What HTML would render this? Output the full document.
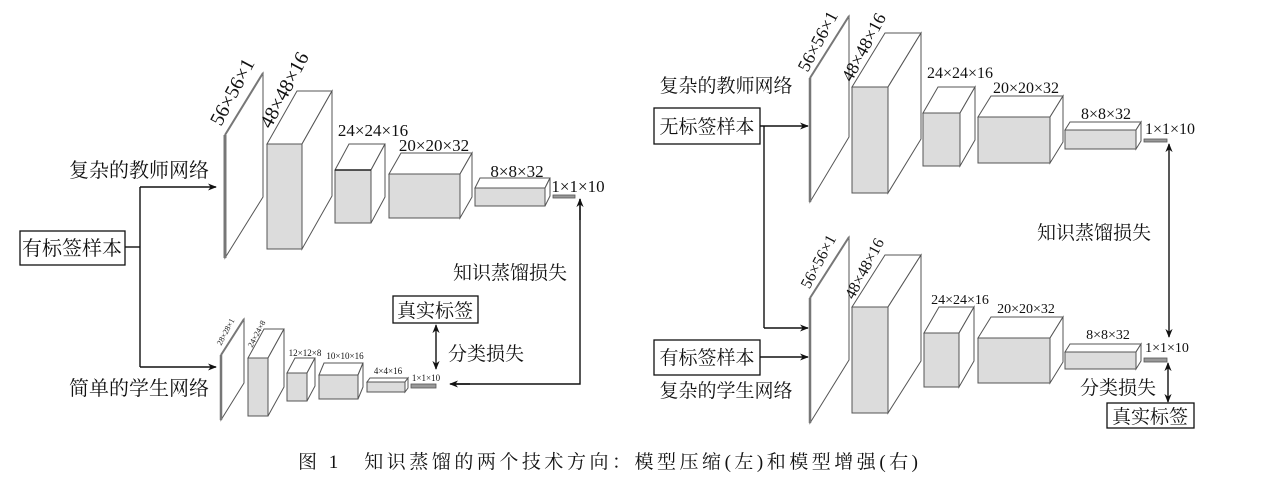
<!DOCTYPE html>
<html><head><meta charset="utf-8"><style>
html,body{margin:0;padding:0;background:#fff}
svg{display:block}
.n{font-family:"Liberation Serif",serif;fill:#111}
.c{font-family:"Liberation Serif","Noto Serif CJK SC",serif;fill:#111}
.f{fill:#dcdcdc;stroke:#555;stroke-width:1}
.w{fill:#fff;stroke:#555;stroke-width:1}
.l{stroke:#111;stroke-width:1.4;fill:none}
</style></head><body>
<svg width="1267" height="477" viewBox="0 0 1267 477" xmlns="http://www.w3.org/2000/svg">
<defs>
<marker id="a" viewBox="0 0 10 10" refX="9" refY="5" markerWidth="9" markerHeight="9" orient="auto-start-reverse" markerUnits="userSpaceOnUse"><path d="M0,1 L10,5 L0,9 L3,5 z" fill="#111"/></marker>
</defs>

<!-- LEFT PANEL -->
<rect x="20" y="231" width="105" height="34" fill="#fff" stroke="#111" stroke-width="1.3"/>
<text x="72" y="255" class="c" font-size="20" text-anchor="middle">有标签样本</text>
<polyline class="l" points="125,247 140,247"/>
<polyline class="l" points="140,187 140,367"/>
<line class="l" x1="140" y1="187" x2="216" y2="187" marker-end="url(#a)"/>
<line class="l" x1="140" y1="367" x2="216" y2="367" marker-end="url(#a)"/>
<text x="139" y="177" class="c" font-size="20" text-anchor="middle">复杂的教师网络</text>
<text x="139" y="395" class="c" font-size="20" text-anchor="middle">简单的学生网络</text>

<!-- teacher left -->
<polygon class="w" points="225,135 263,73 263,197 225,258"/>
<line x1="225" y1="135" x2="225" y2="258" stroke="#777" stroke-width="3"/>
<line x1="225" y1="135" x2="263" y2="73" stroke="#777" stroke-width="2"/>
<g>
<polygon class="w" points="267,144 297,91 332,91 302,144"/><polygon class="w" points="302,144 332,91 332,196 302,249"/><rect class="f" x="267" y="144" width="35" height="105"/>
<polygon class="w" points="335,170 349,144 385,144 371,170"/><polygon class="w" points="371,170 385,144 385,197 371,223"/><rect class="f" x="335" y="170" width="36" height="53"/>
<line x1="335" y1="170" x2="371" y2="170" stroke="#222" stroke-width="1.6"/>
<polygon class="w" points="389,174 401,153 472,153 460,174"/><polygon class="w" points="460,174 472,153 472,197 460,218"/><rect class="f" x="389" y="174" width="71" height="44"/>
<polygon class="w" points="475,188 480,178 550,178 545,188"/><polygon class="w" points="545,188 550,178 550,196 545,206"/><rect class="f" x="475" y="188" width="70" height="18"/>
<rect x="553" y="195" width="22" height="3" fill="#999" stroke="#555" stroke-width="0.8"/>
</g>
<text class="n" font-size="20" text-anchor="middle" transform="translate(238,95) rotate(-62)">56×56×1</text>
<text class="n" font-size="20" text-anchor="middle" transform="translate(290,93) rotate(-62)">48×48×16</text>
<text x="373" y="136" class="n" font-size="17" text-anchor="middle">24×24×16</text>
<text x="434" y="151" class="n" font-size="17" text-anchor="middle">20×20×32</text>
<text x="517" y="177" class="n" font-size="17" text-anchor="middle">8×8×32</text>
<text x="578" y="192" class="n" font-size="17" text-anchor="middle">1×1×10</text>

<!-- student left -->
<polygon class="w" points="221,355 244,319 244,383 221,420"/>
<line x1="221" y1="355" x2="221" y2="420" stroke="#777" stroke-width="2.5"/>
<line x1="221" y1="355" x2="244" y2="319" stroke="#777" stroke-width="2"/>
<polygon class="w" points="248,358 264,329 284,329 268,358"/><polygon class="w" points="268,358 284,329 284,387 268,416"/><rect class="f" x="248" y="358" width="20" height="58"/>
<polygon class="w" points="287,373 295,358 315,358 307,373"/><polygon class="w" points="307,373 315,358 315,386 307,401"/><rect class="f" x="287" y="373" width="20" height="28"/>
<polygon class="w" points="319,375 324,363 363,363 358,375"/><polygon class="w" points="358,375 363,363 363,387 358,399"/><rect class="f" x="319" y="375" width="39" height="24"/>
<polygon class="w" points="367,382 370,378 408,378 405,382"/><polygon class="w" points="405,382 408,378 408,388 405,392"/><rect class="f" x="367" y="382" width="38" height="10"/>
<rect x="411" y="384" width="25" height="4" fill="#999" stroke="#555" stroke-width="0.8"/>
<text class="n" font-size="8" text-anchor="middle" transform="translate(228,333) rotate(-62)">28×28×1</text>
<text class="n" font-size="8" text-anchor="middle" transform="translate(259,335) rotate(-62)">24×24×8</text>
<text x="305" y="356" class="n" font-size="9" text-anchor="middle">12×12×8</text>
<text x="345" y="359" class="n" font-size="9" text-anchor="middle">10×10×16</text>
<text x="388" y="374" class="n" font-size="9" text-anchor="middle">4×4×16</text>
<text x="426" y="381" class="n" font-size="9" text-anchor="middle">1×1×10</text>

<!-- losses left -->
<polyline class="l" points="580,199 580,384 452,384"/>
<line class="l" x1="580" y1="220" x2="580" y2="199" marker-end="url(#a)"/>
<line class="l" x1="470" y1="384" x2="450" y2="384" marker-end="url(#a)"/>
<text x="510" y="279" class="c" font-size="19" text-anchor="middle">知识蒸馏损失</text>
<rect x="393" y="296" width="85" height="27" fill="#fff" stroke="#111" stroke-width="1.3"/>
<text x="435" y="317" class="c" font-size="19" text-anchor="middle">真实标签</text>
<line class="l" x1="436" y1="325" x2="436" y2="369" marker-start="url(#a)" marker-end="url(#a)"/>
<text x="486" y="360" class="c" font-size="19" text-anchor="middle">分类损失</text>

<!-- RIGHT PANEL -->
<text x="726" y="92" class="c" font-size="19" text-anchor="middle">复杂的教师网络</text>
<rect x="654" y="108" width="106" height="36" fill="#fff" stroke="#111" stroke-width="1.3"/>
<text x="707" y="133" class="c" font-size="19" text-anchor="middle">无标签样本</text>
<line class="l" x1="760" y1="126" x2="808" y2="126" marker-end="url(#a)"/>
<polyline class="l" points="764,126 764,328"/>
<line class="l" x1="764" y1="328" x2="808" y2="328" marker-end="url(#a)"/>
<rect x="654" y="340" width="106" height="35" fill="#fff" stroke="#111" stroke-width="1.3"/>
<text x="707" y="364" class="c" font-size="19" text-anchor="middle">有标签样本</text>
<line class="l" x1="760" y1="357" x2="808" y2="357" marker-end="url(#a)"/>
<text x="726" y="397" class="c" font-size="19" text-anchor="middle">复杂的学生网络</text>

<!-- teacher right -->
<polygon class="w" points="810,78 849,16 849,137 810,202"/>
<line x1="810" y1="78" x2="810" y2="202" stroke="#777" stroke-width="2.5"/>
<line x1="810" y1="78" x2="849" y2="16" stroke="#777" stroke-width="2"/>
<polygon class="w" points="852,87 885,33 921,33 888,87"/><polygon class="w" points="888,87 921,33 921,139 888,193"/><rect class="f" x="852" y="87" width="36" height="106"/>
<polygon class="w" points="923,113 938,87 975,87 960,113"/><polygon class="w" points="960,113 975,87 975,140 960,166"/><rect class="f" x="923" y="113" width="37" height="53"/>
<polygon class="w" points="978,117 991,96 1063,96 1050,117"/><polygon class="w" points="1050,117 1063,96 1063,142 1050,163"/><rect class="f" x="978" y="117" width="72" height="46"/>
<polygon class="w" points="1065,130 1070,122 1141,122 1136,130"/><polygon class="w" points="1136,130 1141,122 1141,141 1136,149"/><rect class="f" x="1065" y="130" width="71" height="19"/>
<rect x="1144" y="139" width="23" height="3" fill="#999" stroke="#555" stroke-width="0.8"/>
<text class="n" font-size="18" text-anchor="middle" transform="translate(823,44) rotate(-62)">56×56×1</text>
<text class="n" font-size="18" text-anchor="middle" transform="translate(869,50) rotate(-62)">48×48×16</text>
<text x="960" y="78" class="n" font-size="16" text-anchor="middle">24×24×16</text>
<text x="1026" y="93" class="n" font-size="16" text-anchor="middle">20×20×32</text>
<text x="1106" y="119" class="n" font-size="16" text-anchor="middle">8×8×32</text>
<text x="1170" y="134" class="n" font-size="16" text-anchor="middle">1×1×10</text>

<!-- student right -->
<polygon class="w" points="810,298 849,237 849,360 810,423"/>
<line x1="810" y1="298" x2="810" y2="423" stroke="#777" stroke-width="2.5"/>
<line x1="810" y1="298" x2="849" y2="237" stroke="#777" stroke-width="2"/>
<polygon class="w" points="852,307 885,255 921,255 888,307"/><polygon class="w" points="888,307 921,255 921,361 888,413"/><rect class="f" x="852" y="307" width="36" height="106"/>
<polygon class="w" points="924,333 939,307 974,307 959,333"/><polygon class="w" points="959,333 974,307 974,361 959,387"/><rect class="f" x="924" y="333" width="35" height="54"/>
<polygon class="w" points="978,338 991,317 1063,317 1050,338"/><polygon class="w" points="1050,338 1063,317 1063,362 1050,383"/><rect class="f" x="978" y="338" width="72" height="45"/>
<polygon class="w" points="1065,352 1070,344 1141,344 1136,352"/><polygon class="w" points="1136,352 1141,344 1141,361 1136,369"/><rect class="f" x="1065" y="352" width="71" height="17"/>
<rect x="1144" y="358" width="23" height="4" fill="#999" stroke="#555" stroke-width="0.8"/>
<text class="n" font-size="16" text-anchor="middle" transform="translate(823,264) rotate(-62)">56×56×1</text>
<text class="n" font-size="16" text-anchor="middle" transform="translate(869,271) rotate(-62)">48×48×16</text>
<text x="960" y="304" class="n" font-size="14" text-anchor="middle">24×24×16</text>
<text x="1026" y="313" class="n" font-size="14" text-anchor="middle">20×20×32</text>
<text x="1108" y="339" class="n" font-size="14" text-anchor="middle">8×8×32</text>
<text x="1167" y="352" class="n" font-size="14" text-anchor="middle">1×1×10</text>

<!-- losses right -->
<line class="l" x1="1169" y1="144" x2="1169" y2="337" marker-start="url(#a)" marker-end="url(#a)"/>
<text x="1094" y="239" class="c" font-size="19" text-anchor="middle">知识蒸馏损失</text>
<line class="l" x1="1168" y1="363" x2="1168" y2="402" marker-start="url(#a)" marker-end="url(#a)"/>
<text x="1118" y="394" class="c" font-size="19" text-anchor="middle">分类损失</text>
<rect x="1107" y="403" width="87" height="25" fill="#fff" stroke="#111" stroke-width="1.3"/>
<text x="1150" y="423" class="c" font-size="19" text-anchor="middle">真实标签</text>

<!-- caption -->
<text x="298" y="468" class="c" font-size="19" textLength="620" lengthAdjust="spacing">图 1　知识蒸馏的两个技术方向：模型压缩(左)和模型增强(右)</text>
</svg>
</body></html>
